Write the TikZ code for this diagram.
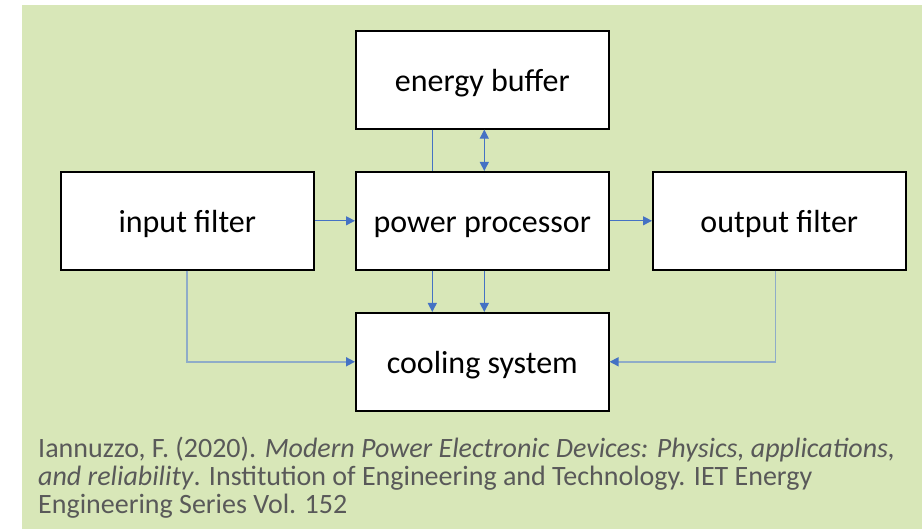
\documentclass[tikz,border=0pt]{standalone}
\usepackage{fontspec}
\setmainfont{Carlito}
\usetikzlibrary{arrows.meta}
\definecolor{bggreen}{HTML}{D8E7B8}
\definecolor{arrblue}{HTML}{4472C4}
\definecolor{elbow}{HTML}{8FACC8}
\definecolor{captiongray}{HTML}{595959}
\tikzset{
  blk/.style={draw=black, line width=1.6pt, fill=white, minimum width=253pt, minimum height=98pt, inner sep=0pt, text height=28pt, text depth=5pt, font=\fontsize{32}{36}\selectfont, anchor=north west},
  conn/.style={draw=arrblue, line width=1pt},
  elb/.style={draw=elbow, line width=1.6pt},
  tip/.style={-{Triangle[length=9pt,width=9pt,color=arrblue]}},
  dtip/.style={{Triangle[length=9pt,width=9pt,color=arrblue]}-{Triangle[length=9pt,width=9pt,color=arrblue]}},
}
\begin{document}
\begin{tikzpicture}[x=1pt,y=-1pt]
\useasboundingbox (0,0) rectangle (922,529);
\fill[white] (0,0) rectangle (922,529);
\fill[bggreen] (22,5) rectangle (922,529);
\node[blk] (eb) at (355,30) {energy buffer};
\node[blk] (inf) at (60,171) {input filter};
\node[blk] (pp) at (355,171) {power processor};
\node[blk] (of) at (652,171) {output filter};
\node[blk] (cs) at (355,312) {cooling system};
% connectors
\draw[conn] ([xshift=-50pt]eb.south) -- ([xshift=-50pt]pp.north);
\draw[conn,dtip] ([xshift=2pt]eb.south) -- ([xshift=2pt]pp.north);
\draw[conn,tip] ([xshift=-50pt]pp.south) -- ([xshift=-50pt]cs.north);
\draw[conn,tip] ([xshift=2pt]pp.south) -- ([xshift=2pt]cs.north);
\draw[conn,tip] (inf.east) -- (pp.west);
\draw[conn,tip] (pp.east) -- (of.east -| of.west);
\draw[elb,tip] ([xshift=-0.5pt]inf.south) |- (cs.west);
\draw[elb,tip] ([xshift=-4pt]of.south) |- (cs.east);
% caption
\node[anchor=base west, align=left, text=captiongray, font=\fontsize{28}{28.5}\selectfont, inner sep=0pt] (cap) at (38,514)
  {Iannuzzo, F. (2020). \textit{Modern Power Electronic Devices: Physics, applications,}\\
   \textit{and reliability}. Institution of Engineering and Technology. IET Energy\\
   Engineering Series Vol. 152};
\end{tikzpicture}
\end{document}
